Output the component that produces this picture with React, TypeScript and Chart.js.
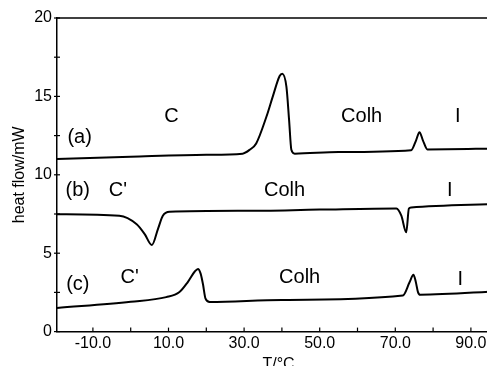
import React, { useEffect, useRef } from "react";
import { Chart, registerables } from "chart.js";

Chart.register(...registerables);

// Curve (a)
const aX = [-19.5, 0, 20, 29.6, 31.5, 33.2, 35.9, 37.6, 39.4, 40.1, 41.2, 41.9, 42.5, 43.4, 55, 74.2, 75.5, 76.4, 77.3, 78.5, 97.7];
const aY = [11.0, 11.15, 11.28, 11.35, 11.6, 12.0, 13.7, 15.0, 16.3, 16.44, 15.6, 13.5, 11.6, 11.35, 11.45, 11.57, 12.2, 12.72, 12.2, 11.62, 11.68];
// Curve (b)
const bX = [-19.5, -3, 1.5, 3.7, 5.6, 7.2, 8.5, 10.3, 30, 50, 70.3, 71.6, 72.9, 73.6, 74.2, 97.7];
const bY = [7.49, 7.39, 6.86, 6.22, 5.52, 6.54, 7.39, 7.64, 7.7, 7.78, 7.85, 7.39, 6.33, 7.85, 7.92, 8.15];
// Curve (c)
const cX = [-19.5, 0, 9.4, 12.9, 15.1, 17.0, 17.8, 18.5, 19.1, 19.8, 20.9, 40, 72, 73.8, 74.8, 75.4, 76, 76.6, 97.7];
const cY = [1.5, 1.9, 2.2, 2.52, 3.16, 3.85, 4.0, 3.7, 3.05, 2.1, 1.89, 2.02, 2.3, 3.16, 3.62, 3.2, 2.52, 2.35, 2.58];

// Annotation labels
const labelTexts = ["(a)", "C", "Colh", "I", "(b)", "C'", "Colh", "I", "(c)", "C'", "Colh", "I"];
const labelX = [-13.5, 10.8, 61.1, 86.5, -14, -3.4, 40.7, 84.4, -14, -0.3, 44.7, 87.2];
const labelY = [12.4, 13.7, 13.7, 13.7, 9.0, 9.0, 9.0, 9.0, 3.0, 3.45, 3.45, 3.3];

const xTicksLabelled = [-10, 10, 30, 50, 70, 90];
const yTicksLabelled = [0, 5, 10, 15, 20];

const FONT = "Liberation Sans, Arial, Helvetica, sans-serif";

const toPts = (xs: number[], ys: number[]) => xs.map((x, i) => ({ x, y: ys[i] }));

const extrasPlugin = {
  id: "extras",
  afterDraw(chart: any) {
    const { ctx, chartArea, scales } = chart;
    const xs = scales.x;
    const ys = scales.y;
    ctx.save();
    ctx.strokeStyle = "#000";
    ctx.lineWidth = 1.5;
    // top frame line
    ctx.beginPath();
    ctx.moveTo(chartArea.left, chartArea.top);
    ctx.lineTo(chartArea.right, chartArea.top);
    ctx.stroke();
    // x tick marks (inward)
    ctx.lineWidth = 1.2;
    xs.ticks.forEach((t: any) => {
      const px = xs.getPixelForValue(t.value);
      ctx.beginPath();
      ctx.moveTo(px, chartArea.bottom);
      ctx.lineTo(px, chartArea.bottom - 4);
      ctx.stroke();
    });
    // y tick marks (crossing)
    ys.ticks.forEach((t: any) => {
      const py = ys.getPixelForValue(t.value);
      ctx.beginPath();
      ctx.moveTo(chartArea.left - 3, py);
      ctx.lineTo(chartArea.left + 3, py);
      ctx.stroke();
    });
    // annotations
    ctx.fillStyle = "#000";
    ctx.font = `20px ${FONT}`;
    ctx.textAlign = "center";
    ctx.textBaseline = "middle";
    labelTexts.forEach((txt, i) => {
      ctx.fillText(txt, xs.getPixelForValue(labelX[i]), ys.getPixelForValue(labelY[i]));
    });
    ctx.restore();
  },
};

export default function App() {
  const ref = useRef<HTMLCanvasElement>(null);
  useEffect(() => {
    if (!ref.current) return;
    const ds = (xs: number[], ys: number[]) => ({
      data: toPts(xs, ys),
      borderColor: "#000",
      borderWidth: 2,
      pointRadius: 0,
      fill: false,
      tension: 0.4,
      cubicInterpolationMode: "monotone" as const,
    });
    const chart = new Chart(ref.current, {
      type: "line",
      data: { datasets: [ds(aX, aY), ds(bX, bY), ds(cX, cY)] },
      options: {
        responsive: false,
        animation: false,
        layout: { padding: { left: 6, top: 18, right: 0, bottom: 0 } },
        plugins: { legend: { display: false }, tooltip: { enabled: false } },
        scales: {
          x: {
            type: "linear",
            min: -19.5,
            max: 97.7,
            grid: { display: true, drawOnChartArea: false, drawTicks: false },
            border: { display: true, color: "#000", width: 1.5 },
            ticks: {
              stepSize: 10,
              includeBounds: false,
              autoSkip: false,
              maxRotation: 0,
              padding: 2,
              color: "#000",
              font: { family: FONT, size: 16 },
              callback: (v: any) => (xTicksLabelled.includes(Number(v)) ? Number(v).toFixed(1) : ""),
            },
            title: {
              display: true,
              text: "T/°C",
              color: "#000",
              font: { family: FONT, size: 16 },
              padding: { top: 0, bottom: 4 },
            },
          },
          y: {
            type: "linear",
            min: 0,
            max: 20,
            grid: { display: true, drawOnChartArea: false, drawTicks: false },
            border: { display: true, color: "#000", width: 1.5 },
            ticks: {
              stepSize: 2.5,
              autoSkip: false,
              padding: 5,
              color: "#000",
              font: { family: FONT, size: 16 },
              callback: (v: any) => (yTicksLabelled.includes(Number(v)) ? String(v) : ""),
            },
            title: {
              display: true,
              text: "heat flow/mW",
              color: "#000",
              font: { family: FONT, size: 16 },
              padding: { top: 4, bottom: 0 },
            },
          },
        },
      },
      plugins: [extrasPlugin],
    });
    return () => chart.destroy();
  }, []);
  return (
    <div style={{ position: "fixed", left: 0, top: 0, width: 487, height: 366, overflow: "hidden", background: "#fff" }}>
      <canvas ref={ref} width={500} height={378} style={{ width: 500, height: 378, display: "block" }} />
    </div>
  );
}
